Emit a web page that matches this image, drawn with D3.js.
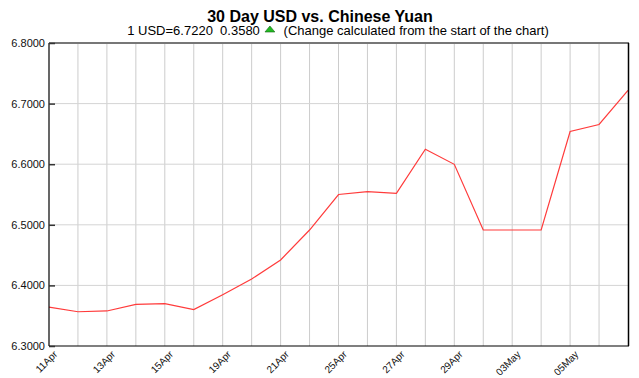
<!DOCTYPE html>
<html>
<head>
<meta charset="utf-8">
<script src="https://cdn.jsdelivr.net/npm/d3@7"></script>
<style>
  body { margin: 0; background: #fff; }
  svg text { font-family: "Liberation Sans", Arial, sans-serif; white-space: pre; }
</style>
</head>
<body>
<div id="chart"></div>
<script>
// dates, one per gridline
var dates = ['11Apr', '12Apr', '13Apr', '14Apr', '15Apr', '18Apr', '19Apr', '20Apr', '21Apr', '22Apr',
    '25Apr', '26Apr', '27Apr', '28Apr', '29Apr', '02May', '03May', '04May', '05May', '06May', '09May'];
// only every other date gets a label
var labelledDates = ['11Apr', '13Apr', '15Apr', '19Apr', '21Apr', '25Apr', '27Apr', '29Apr', '03May', '05May'];
var rates = [6.3640, 6.3565, 6.3578, 6.3688, 6.3700, 6.3600, 6.3847, 6.4106, 6.4420, 6.4914,
    6.5500, 6.5547, 6.5520, 6.6246, 6.5998, 6.4914, 6.4914, 6.4914, 6.6540, 6.6655, 6.7220];
var yTicks = [6.3, 6.4, 6.5, 6.6, 6.7, 6.8];

var width = 639, height = 378;
var plotLeft = 49, plotRight = 628, plotTop = 43, plotBottom = 346;

var svg = d3.select("#chart").append("svg")
    .attr("width", width)
    .attr("height", height);

var xScale = d3.scalePoint().domain(dates).range([plotLeft, plotRight]);
var yScale = d3.scaleLinear().domain([6.3, 6.8]).range([plotBottom, plotTop]);

// title
svg.append("text")
    .attr("x", 320).attr("y", 21.5)
    .attr("text-anchor", "middle")
    .style("font-size", "16px")
    .style("font-weight", "bold")
    .text("30 Day USD vs. Chinese Yuan");

var sub = svg.append("text")
    .attr("x", 338).attr("y", 35)
    .attr("text-anchor", "middle")
    .style("font-size", "13px");
sub.append("tspan").text("1 USD=6.7220  0.3580 ");
sub.append("tspan").attr("fill", "#fff").text("\u25B2");
sub.append("tspan").text("  (Change calculated from the start of the chart)");

// grid
svg.append("g").selectAll("line")
    .data(dates.slice(1, -1))
    .enter().append("line")
    .attr("x1", function (d) { return xScale(d); })
    .attr("x2", function (d) { return xScale(d); })
    .attr("y1", plotTop).attr("y2", plotBottom)
    .attr("stroke", "#cccccc").attr("stroke-width", 1);

svg.append("g").selectAll("line")
    .data(yTicks.slice(1, -1))
    .enter().append("line")
    .attr("x1", plotLeft).attr("x2", plotRight)
    .attr("y1", function (d) { return yScale(d); })
    .attr("y2", function (d) { return yScale(d); })
    .attr("stroke", "#d4d4d4").attr("stroke-width", 1);

// green arrow in subtitle, placed after layout
var tsp = sub.selectAll("tspan").nodes()[1];
var box = tsp.getBBox();
svg.append("path")
    .attr("d", "M" + (box.x + 1.5) + "," + 32 + "L" + (box.x + box.width - 1.5) + "," + 32 + "L" + (box.x + box.width / 2) + "," + 26 + "Z")
    .attr("fill", "#22bb22").attr("stroke", "#116611").attr("stroke-width", 0.6);

// line
var line = d3.line()
    .x(function (d, i) { return xScale(dates[i]); })
    .y(function (d) { return yScale(d); });

svg.append("path")
    .datum(rates)
    .attr("d", line)
    .attr("fill", "none")
    .attr("stroke", "#ff3b3b")
    .attr("stroke-width", 1.2);

// frame
svg.append("line").attr("x1", plotLeft).attr("x2", plotRight + 1).attr("y1", plotTop).attr("y2", plotTop)
    .attr("stroke", "#777").attr("stroke-width", 2);
svg.append("line").attr("x1", plotLeft).attr("x2", plotLeft).attr("y1", plotTop).attr("y2", plotBottom)
    .attr("stroke", "#000").attr("stroke-width", 1.2);
svg.append("line").attr("x1", plotLeft).attr("x2", plotRight + 1).attr("y1", plotBottom).attr("y2", plotBottom)
    .attr("stroke", "#000").attr("stroke-width", 1.2);
svg.append("line").attr("x1", plotRight + 0.5).attr("x2", plotRight + 0.5).attr("y1", plotTop).attr("y2", plotBottom)
    .attr("stroke", "#000").attr("stroke-width", 1.5);

// y axis
var yAxis = d3.axisLeft(yScale).tickValues(yTicks).tickSize(-6).tickPadding(10)
    .tickFormat(d3.format(".4f"));
var yg = svg.append("g")
    .attr("transform", "translate(" + plotLeft + ",0)")
    .call(yAxis);
yg.select(".domain").remove();
yg.selectAll(".tick line").attr("stroke", "#333").attr("stroke-width", 1.5);
yg.selectAll(".tick text")
    .attr("x", -4)
    .style("font-size", "11px")
    .style("font-family", "Liberation Sans, Arial, sans-serif")
    .attr("fill", "#111");

// x labels
svg.append("g").selectAll("text")
    .data(labelledDates)
    .enter().append("text")
    .attr("text-anchor", "end")
    .attr("transform", function (d) {
        return "translate(" + (xScale(d) + 9) + "," + (plotBottom + 9) + ") rotate(-45)";
    })
    .style("font-size", "10px")
    .attr("fill", "#111")
    .text(function (d) { return d; });
</script>
</body>
</html>
